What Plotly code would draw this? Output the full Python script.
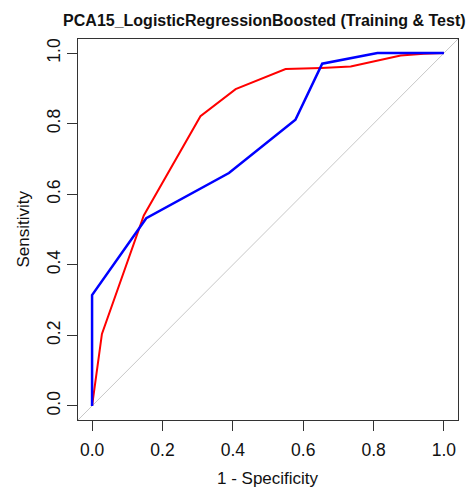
import plotly.graph_objects as go

title_text = "PCA15_LogisticRegressionBoosted (Training & Test)"
x_label = "1 - Specificity"
y_label = "Sensitivity"
tick_vals = [0.0, 0.2, 0.4, 0.6, 0.8, 1.0]
tick_text = ["0.0", "0.2", "0.4", "0.6", "0.8", "1.0"]

red_fpr = [0.0, 0.028, 0.147, 0.308, 0.408, 0.550, 0.652, 0.735, 0.877, 0.943, 1.0]
red_tpr = [0.0, 0.204, 0.540, 0.821, 0.898, 0.955, 0.958, 0.962, 0.993, 0.998, 1.0]

blue_fpr = [0.0, 0.0, 0.154, 0.389, 0.578, 0.654, 0.811, 1.0]
blue_tpr = [0.0, 0.314, 0.532, 0.660, 0.811, 0.970, 1.0, 1.0]

W, H = 472, 489
ML, MR, MT, MB = 78, 14, 39, 69
PW, PH = W - ML - MR, H - MT - MB
FONT = "Liberation Sans, Arial"

fig = go.Figure()
fig.add_shape(type="line", xref="paper", yref="paper", x0=0, y0=0, x1=1, y1=1,
              line=dict(color="#c8c8c8", width=1), layer="below")
fig.add_trace(go.Scatter(x=red_fpr, y=red_tpr, mode="lines",
                         line=dict(color="#ff0000", width=2), showlegend=False))
fig.add_trace(go.Scatter(x=blue_fpr, y=blue_tpr, mode="lines",
                         line=dict(color="#0000ff", width=2.5), showlegend=False))

axis_common = dict(
    range=[-0.04, 1.04], showgrid=False, zeroline=False, automargin=False,
    showline=True, linecolor="#333333", linewidth=1, mirror=True,
    ticks="outside", ticklen=10, tickwidth=1, tickcolor="#333333",
    tickvals=tick_vals, ticktext=tick_text,
    tickfont=dict(family=FONT, size=17.5, color="#111111"),
)

fig.add_annotation(text=x_label, xref="paper", yref="paper",
                   x=0.5, y=-(478 - (H - MB)) / PH, xanchor="center", yanchor="middle",
                   showarrow=False, font=dict(family=FONT, size=17, color="#111111"))
fig.add_annotation(text=y_label, xref="paper", yref="paper", textangle=-90,
                   x=-(ML - 23) / PW, y=0.5, xanchor="center", yanchor="middle",
                   showarrow=False, font=dict(family=FONT, size=17, color="#111111"))

fig.update_layout(
    width=W, height=H,
    margin=dict(l=ML, r=MR, t=MT, b=MB),
    paper_bgcolor="white", plot_bgcolor="white",
    title=dict(text="<b>" + title_text + "</b>", x=0.56, xanchor="center",
               y=1 - 20 / H, yanchor="middle",
               font=dict(family=FONT, size=16, color="#111111")),
    xaxis=dict(**axis_common, ticklabelstandoff=4),
    yaxis=dict(**axis_common, tickangle=-90, ticklabelstandoff=0),
)

fig.write_html("out.html", config={"displayModeBar": False},
               post_script="document.body.style.margin='0';")
